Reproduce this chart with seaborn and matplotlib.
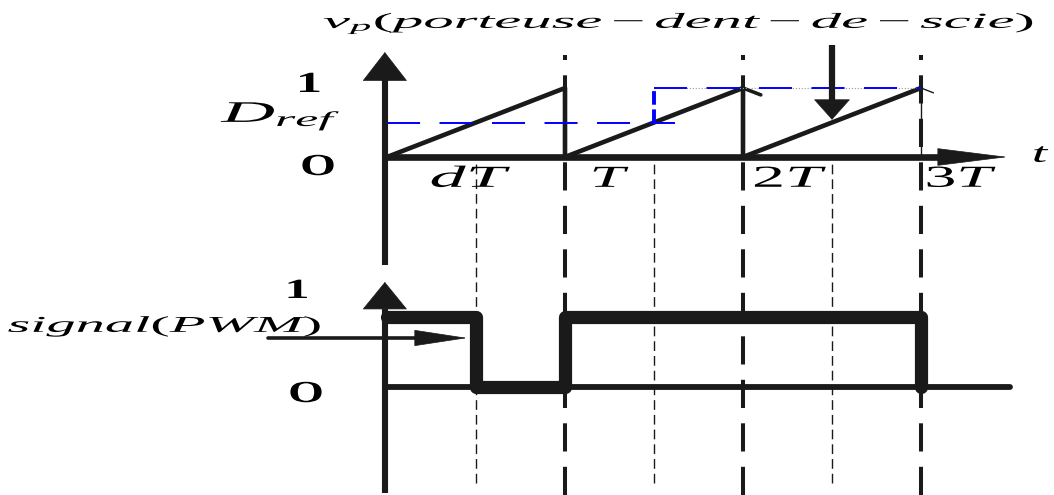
import matplotlib
matplotlib.use("Agg")
import seaborn as sns
from matplotlib import pyplot as plt
from matplotlib.patheffects import AbstractPathEffect
from matplotlib.transforms import Affine2D

sns.set_theme(style="white")
plt.rcParams['font.family'] = ['Liberation Serif', 'DejaVu Serif']
plt.rcParams['text.color'] = 'black'
plt.rcParams['mathtext.fontset'] = 'custom'
plt.rcParams['mathtext.rm'] = 'Liberation Serif'
plt.rcParams['mathtext.it'] = 'Liberation Serif:italic'
plt.rcParams['mathtext.bf'] = 'Liberation Serif:bold'

# time is in periods T, levels are 0..1
saw_t = [0, 1, 1, 2, 2, 3]
saw_v = [0, 1, 0, 1, 0, 1]
dref1_t = [0, 1.62]
dref1_v = [0.5, 0.5]
step_t = [1.5, 1.5]
step_v = [0.5, 1]
dref2_t = [1.5, 3]
dref2_v = [1, 1]
pwm_t = [0, 0.5, 0.5, 1, 1, 3, 3]
pwm_v = [1, 1, 0, 0, 1, 1, 0]
period_t = [1, 2, 3]
period_labels = ['$T$', '$2T$', '$3T$']
cross_t = [0.5, 1.5, 2.5]

W, H = 1054, 495
x0, T = 387, 178       # pixel of t=0 and of one period
fig = plt.figure(figsize=(W / 100, H / 100), dpi=100)
top = fig.add_axes([0, 0, 1, 1])
bot = fig.add_axes([0, 0, 1, 1])
xl = (-x0 / T, (W - x0) / T)
top.set_xlim(xl)
bot.set_xlim(xl)
top.set_ylim(-(H - 157) / 69, 157 / 69)
bot.set_ylim(-(H - 387) / 70, 387 / 70)
for a in (top, bot):
    a.axis('off')
    a.patch.set_alpha(0)


def head(ax, base, tip, hl, hw, lw=0.5):
    ax.annotate('', xy=tip, xytext=base,
                arrowprops=dict(arrowstyle=f'-|>,head_length={hl},head_width={hw}',
                                color='k', lw=lw, shrinkA=0, shrinkB=0,
                                mutation_scale=1))


# vertical guide lines
top.vlines(period_t, -(H - 157) / 69, (157 - 55) / 69, colors='k', lw=2.9,
           linestyles=(0, (7, 3.8)))
top.vlines(cross_t, -(483 - 157) / 69, 0, colors='k', lw=1.0,
           linestyles=(0, (7, 3.6)))

# top axes
top.plot([-0.012, -0.012], [-(265 - 157) / 69, 1.12], color='k', lw=4.4,
         solid_capstyle='butt')
head(top, (-0.012, 1.11), (-0.012, 1.52), 20, 15.5)
top.plot([-0.012, 3.11], [0, 0], color='k', lw=4.8, solid_capstyle='butt')
head(top, (3.10, 0), (3.485, 0), 48, 6)

# carrier and reference
sns.lineplot(x=saw_t, y=saw_v, sort=False, estimator=None, ax=top, color='k',
             lw=3.3)
top.plot([3, 3], [1, 0], color='k', lw=1.0)
top.plot([2, 2.1], [1, 0.9], color='k', lw=2.6)
top.plot([3, 3.07], [1, 0.93], color='k', lw=1.0)
top.plot(dref2_t, dref2_v, color='0.6', lw=0.8, ls=':')
top.plot(dref1_t, dref1_v, color='#0000ff', lw=1.4, ls=(0, (17, 10)))
top.plot(dref2_t, dref2_v, color='#0000ff', lw=1.4, ls=(0, (17, 10)))
top.plot(step_t, step_v, color='#0000ff', lw=2.8, ls=(0, (3.5, 1.2)))

# intersection arrow
top.plot([2.5, 2.5], [(157 - 45) / 69, 0.83], color='k', lw=4.5,
         solid_capstyle='butt')
head(top, (2.5, 0.83), (2.5, 0.54), 14, 12.5)

# bottom axes
bot.plot([-0.012, -0.012], [-(493 - 387) / 70, 1.12], color='k', lw=4.4,
         solid_capstyle='butt')
head(bot, (-0.012, 1.11), (-0.012, 1.50), 19, 15.5)
bot.plot([-0.012, (1010 - x0) / T], [0, 0], color='k', lw=4.2,
         solid_capstyle='round')
sns.lineplot(x=pwm_t, y=pwm_v, sort=False, estimator=None, ax=bot, color='k',
             lw=9.5, solid_joinstyle='round', solid_capstyle='round')
bot.plot([(268 - x0) / T, 0.17], [0.7, 0.7], color='k', lw=2.6,
         solid_capstyle='round')
head(bot, (0.16, 0.7), (0.45, 0.7), 36, 5.5)


class Stretch(AbstractPathEffect):
    # widen the glyphs horizontally around x = cx (display pixels)
    def __init__(self, sx, cx):
        super().__init__()
        self.sx, self.cx = sx, cx

    def draw_path(self, renderer, gc, tpath, affine, rgbFace=None):
        st = Affine2D().translate(-self.cx, 0).scale(self.sx, 1).translate(self.cx, 0)
        renderer.draw_path(gc, tpath, affine + st, rgbFace)


labels = []


def ptext(x, y, s, size, width=None, sx=None, **kw):
    t = fig.text(x / W, 1 - y / H, s, fontsize=size, ha='center',
                 va='baseline', **kw)
    labels.append((t, x, width, sx))


ptext(680, 28, r'$v_p(porteuse-dent-de-scie)$', 15.5, width=714)
ptext(309, 92, '1', 21, sx=1.8, fontweight='bold')
ptext(283, 122, r'$D_{ref}$', 21.5, width=123)
ptext(318, 175, 'O', 22, sx=1.5, fontweight='bold')
ptext(472, 187, '$dT$', 22, width=85)
for t, lab, cx, w in zip(period_t, period_labels, [611, 791, 962], [43, 78, 75]):
    ptext(cx, 187, lab, 22, width=w)
ptext(1042, 162, '$t$', 20, sx=2.0)
ptext(297, 298, '1', 20, sx=1.8, fontweight='bold')
ptext(166, 332, r'$signal(PWM)$', 16.3, width=317)
ptext(306, 402, 'O', 22, sx=1.5, fontweight='bold')

fig.canvas.draw()
rend = fig.canvas.get_renderer()
for t, x, width, sx in labels:
    if sx is None:
        sx = width / t.get_window_extent(rend).width
    t.set_path_effects([Stretch(sx, x)])

fig.savefig('out.png', dpi=100)
